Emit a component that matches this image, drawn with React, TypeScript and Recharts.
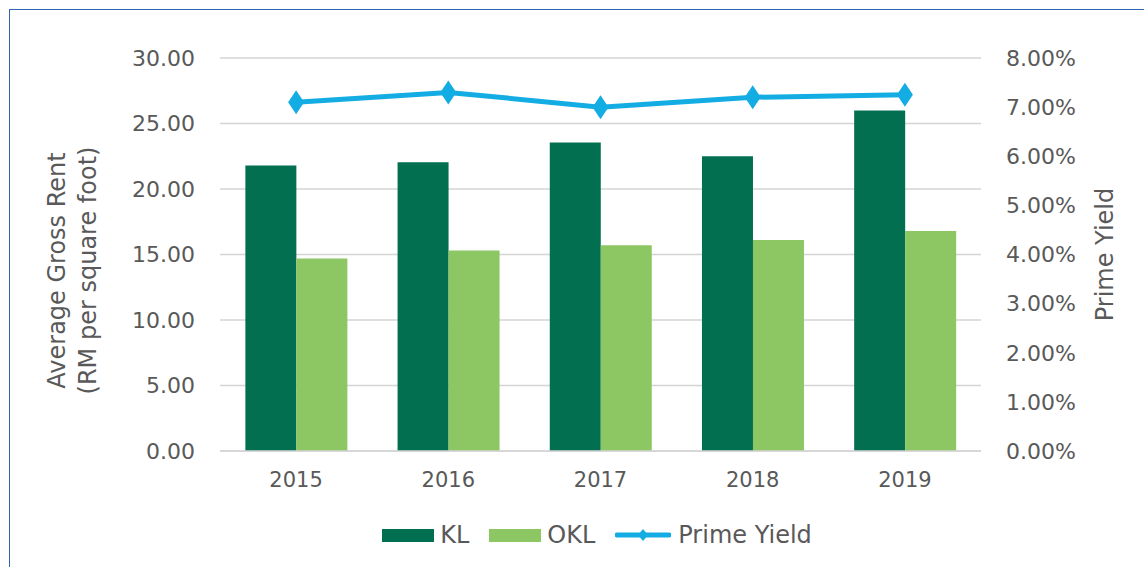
import {
  ComposedChart,
  Bar,
  Line,
  XAxis,
  YAxis,
  CartesianGrid,
  Legend,
} from "recharts";

const years = ["2015", "2016", "2017", "2018", "2019"];
const klRent = [21.8, 22.05, 23.55, 22.5, 26.0];
const oklRent = [14.7, 15.3, 15.7, 16.1, 16.8];
const primeYield = [7.1, 7.3, 7.0, 7.2, 7.25];

const rentTicks = [0, 5, 10, 15, 20, 25, 30];
const yieldTicks = [0, 1, 2, 3, 4, 5, 6, 7, 8];

const data = years.map((year, i) => ({
  year,
  kl: klRent[i],
  okl: oklRent[i],
  yield: primeYield[i],
}));

const FONT = "'DejaVu Sans', sans-serif";
const TEXT = "#595959";
const DARK = "#036f51";
const LIGHT = "#8cc763";
const BLUE = "#14ade3";

function Diamond(props: any) {
  const { cx, cy } = props;
  if (cx == null || cy == null) return null;
  return (
    <polygon
      points={`${cx},${cy - 12} ${cx + 8},${cy} ${cx},${cy + 12} ${cx - 8},${cy}`}
      fill={BLUE}
    />
  );
}

function LeftTitle(props: any) {
  const { viewBox } = props;
  const cy = viewBox.y + viewBox.height / 2 + 16;
  return (
    <g fill={TEXT} fontSize={24} fontFamily={FONT}>
      <text
        x={57}
        y={cy}
        textAnchor="middle"
        dominantBaseline="central"
        transform={`rotate(-90 57 ${cy})`}
      >
        Average Gross Rent
      </text>
      <text
        x={88}
        y={cy}
        textAnchor="middle"
        dominantBaseline="central"
        transform={`rotate(-90 88 ${cy})`}
      >
        (RM per square foot)
      </text>
    </g>
  );
}

function RightTitle(props: any) {
  const { viewBox } = props;
  const cx = viewBox.x + 124;
  const cy = viewBox.y + viewBox.height / 2;
  return (
    <text
      x={cx}
      y={cy}
      fill={TEXT}
      fontSize={24}
      fontFamily={FONT}
      textAnchor="middle"
      dominantBaseline="central"
      transform={`rotate(-90 ${cx} ${cy})`}
    >
      Prime Yield
    </text>
  );
}

function LegendBox() {
  const item = { display: "flex", alignItems: "center", marginRight: 20 };
  const label = { marginLeft: 6, color: TEXT, fontSize: 24, fontFamily: FONT };
  return (
    <div style={{ display: "flex", justifyContent: "center", height: 40, alignItems: "center", paddingLeft: 50 }}>
      <div style={item}>
        <span style={{ width: 52, height: 13, background: DARK }} />
        <span style={label}>KL</span>
      </div>
      <div style={item}>
        <span style={{ width: 52, height: 13, background: LIGHT }} />
        <span style={label}>OKL</span>
      </div>
      <div style={{ ...item, marginRight: 0 }}>
        <svg width={56} height={14}>
          <line x1={2} y1={7} x2={54} y2={7} stroke={BLUE} strokeWidth={5} strokeLinecap="round" />
          <polygon points="28,1 33,7 28,13 23,7" fill={BLUE} />
        </svg>
        <span style={{ ...label, marginLeft: 7 }}>Prime Yield</span>
      </div>
    </div>
  );
}

export default function App() {
  return (
    <div
      style={{
        position: "absolute",
        left: 0,
        top: 0,
        width: 1144,
        height: 567,
        overflow: "hidden",
        background: "#fff",
      }}
    >
      <div
        style={{
          position: "absolute",
          left: 9,
          top: 9,
          width: 1160,
          height: 580,
          border: "1.5px solid #2f64b0",
        }}
      />
      <div style={{ position: "absolute", left: 0, top: 0 }}>
        <ComposedChart
          width={1144}
          height={567}
          data={data}
          margin={{ top: 58, right: 0, bottom: 12, left: 0 }}
          barCategoryGap="16.67%"
          barGap={0}
        >
          <CartesianGrid yAxisId="left" vertical={false} stroke="#d4d4d4" strokeWidth={1.5} />
          <XAxis
            dataKey="year"
            height={64}
            tickSize={0}
            tickMargin={21}
            axisLine={{ stroke: "#d4d4d4", strokeWidth: 1.5 }}
            tickLine={false}
            tick={{ fill: TEXT, fontSize: 21, fontFamily: FONT }}
          />
          <YAxis
            yAxisId="left"
            width={220}
            domain={[0, 30]}
            ticks={rentTicks}
            tickFormatter={(v: number) => v.toFixed(2)}
            axisLine={false}
            tickLine={false}
            tickSize={0}
            tickMargin={25}
            tick={{ fill: TEXT, fontSize: 22, fontFamily: FONT }}
            label={<LeftTitle />}
          />
          <YAxis
            yAxisId="right"
            orientation="right"
            width={163}
            domain={[0, 8]}
            ticks={yieldTicks}
            tickFormatter={(v: number) => `${v.toFixed(2)}%`}
            axisLine={false}
            tickLine={false}
            tickSize={0}
            tickMargin={25}
            tick={{ fill: TEXT, fontSize: 22, fontFamily: FONT, textAnchor: "start" }}
            label={<RightTitle />}
          />
          <Legend verticalAlign="bottom" content={<LegendBox />} />
          <Bar yAxisId="left" dataKey="kl" name="KL" fill={DARK} isAnimationActive={false} />
          <Bar yAxisId="left" dataKey="okl" name="OKL" fill={LIGHT} isAnimationActive={false} />
          <Line
            yAxisId="right"
            dataKey="yield"
            name="Prime Yield"
            stroke={BLUE}
            strokeWidth={5}
            dot={<Diamond />}
            activeDot={false}
            isAnimationActive={false}
          />
        </ComposedChart>
      </div>
    </div>
  );
}
